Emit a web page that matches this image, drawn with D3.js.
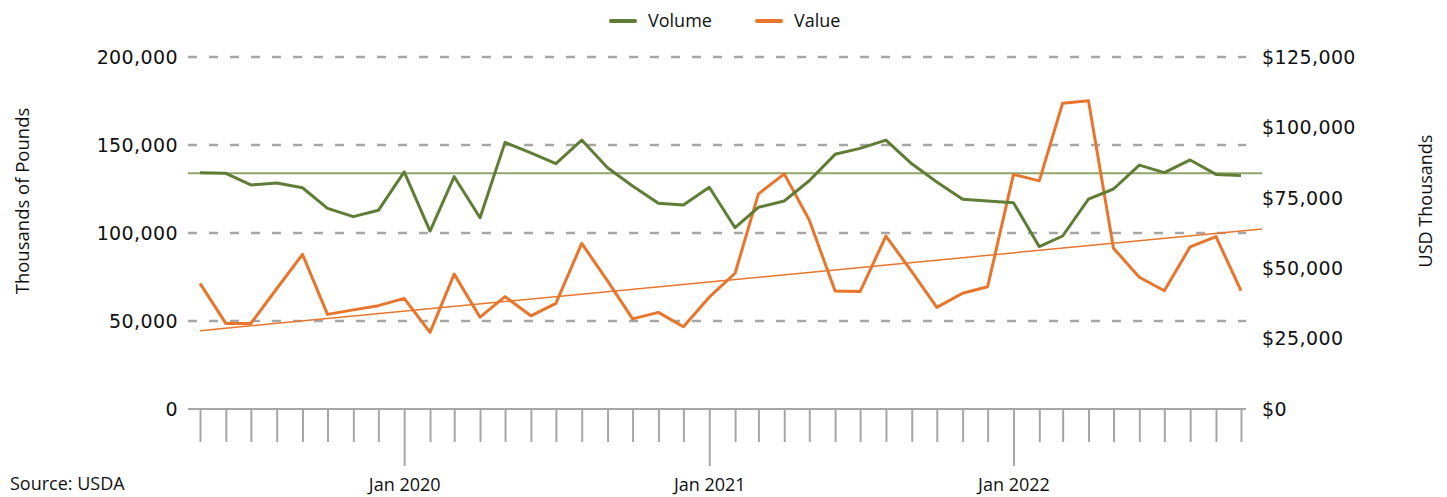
<!DOCTYPE html>
<html lang="en">
<head>
  <meta charset="utf-8" />
  <title>Volume and Value</title>
  <script src="https://cdn.jsdelivr.net/npm/d3@7"></script>
  <style>
    body {
      margin: 0;
      background: #fff;
      font-family: "Open Sans", sans-serif;
    }
    .num {
      font-family: "DejaVu Sans", sans-serif;
      font-size: 19px;
      fill: #111;
    }
  </style>
</head>
<body>
  <div id="chart"></div>

  <script type="text/javascript">

    // months May 2019 .. Oct 2022
    const months = d3.timeMonth.range(new Date(2019, 4, 1), new Date(2022, 10, 1));

    // thousands of pounds
    const volume = [
      134300, 133900, 127300, 128400, 125700, 114000, 109300, 112900, 134700, 101100,
      132000, 108700, 151500, 145500, 139400, 152800, 137100, 126700, 116900, 115900,
      126000, 103000, 114600, 118200, 129700, 144700, 148100, 152800, 139300, 129000,
      119200, 118200, 117200, 92200, 98300, 119200, 125000, 138600, 134300, 141500,
      133300, 132600
    ];

    // USD thousands
    const value = [
      44600, 30400, 30400, 42700, 54900, 33600, 35200, 36700, 39300, 27200,
      47900, 32600, 39900, 33100, 37500, 58800, 45500, 32000, 34300, 29200,
      39700, 48200, 76400, 83500, 67100, 41900, 41700, 61400, 48800, 36100,
      41100, 43400, 83300, 81000, 108600, 109500, 57100, 46800, 42000, 57600,
      61200, 42000
    ];

    const volumeAverage = 134000;
    const valueTrend = [27800, 63900];   // start, end of linear trend

    const leftTicks = [0, 50000, 100000, 150000, 200000];
    const rightTicks = [0, 25000, 50000, 75000, 100000, 125000];

    const legendItems = [
      { name: "Volume", color: "#5f7d34" },
      { name: "Value", color: "#e8752b" }
    ];

    const w = 1447;
    const h = 497;
    const green = "#5f7d34";
    const greenLight = "#8fa668";
    const orange = "#e8752b";
    const grey = "#a6a6a6";

    const svg = d3.select("#chart")
                  .append("svg")
                  .attr("width", w)
                  .attr("height", h);

    const x = d3.scaleTime()
                .domain([months[0], months[months.length - 1]])
                .range([200, 1241]);

    const yL = d3.scaleLinear().domain([0, 200000]).range([409, 57]);
    const yR = d3.scaleLinear().domain([0, 125000]).range([409, 57]);

    const plotLeft = x.range()[0] - 12;
    const plotRight = x.range()[1] + 5;
    const refRight = x.range()[1] + 21;

    // dashed gridlines
    svg.append("g")
       .selectAll("line")
       .data(leftTicks.filter(d => d > 0))
       .enter()
       .append("line")
       .attr("x1", plotLeft)
       .attr("x2", plotRight)
       .attr("y1", d => yL(d))
       .attr("y2", d => yL(d))
       .attr("stroke", grey)
       .attr("stroke-width", 2.5)
       .attr("stroke-dasharray", "9,12");

    // x axis
    const xAxis = d3.axisBottom(x)
                    .ticks(d3.timeMonth.every(1))
                    .tickSize(33)
                    .tickFormat(d => d.getMonth() === 0 ? "Jan " + d.getFullYear() : "");

    const gx = svg.append("g")
                  .attr("transform", "translate(0," + yL(0) + ")")
                  .call(xAxis);

    gx.select(".domain").remove();
    gx.selectAll(".tick line")
      .attr("stroke", grey)
      .attr("stroke-width", 2)
      .attr("y2", d => d.getMonth() === 0 ? 57 : 33);
    gx.selectAll(".tick text")
      .attr("y", 82)
      .attr("dy", 0)
      .attr("fill", "#111")
      .style("font-family", "'Open Sans', sans-serif")
      .style("font-size", "18px");

    svg.append("line")
       .attr("x1", plotLeft)
       .attr("x2", plotRight)
       .attr("y1", yL(0))
       .attr("y2", yL(0))
       .attr("stroke", grey)
       .attr("stroke-width", 2);

    // left axis labels
    svg.append("g")
       .selectAll("text")
       .data(leftTicks)
       .enter()
       .append("text")
       .attr("class", "num")
       .attr("x", 178)
       .attr("y", d => yL(d))
       .attr("dy", "0.36em")
       .attr("text-anchor", "end")
       .style("letter-spacing", "0.4px")
       .text(d => d3.format(",")(d));

    // right axis labels
    svg.append("g")
       .selectAll("text")
       .data(rightTicks)
       .enter()
       .append("text")
       .attr("class", "num")
       .attr("x", 1262)
       .attr("y", d => yR(d))
       .attr("dy", "0.36em")
       .style("letter-spacing", "0.4px")
       .text(d => "$" + d3.format(",")(d));

    // axis titles
    svg.append("text")
       .attr("transform", "translate(29,201) rotate(-90)")
       .attr("text-anchor", "middle")
       .attr("fill", "#111")
       .style("font-size", "18.5px")
       .text("Thousands of Pounds");

    svg.append("text")
       .attr("transform", "translate(1432,201) rotate(-90)")
       .attr("text-anchor", "middle")
       .attr("fill", "#111")
       .style("font-size", "18px")
       .text("USD Thousands");

    // average volume line
    svg.append("line")
       .attr("x1", plotLeft)
       .attr("x2", refRight)
       .attr("y1", yL(volumeAverage))
       .attr("y2", yL(volumeAverage))
       .attr("stroke", greenLight)
       .attr("stroke-width", 2);

    // value trend line
    svg.append("line")
       .attr("x1", x(months[0]))
       .attr("x2", refRight)
       .attr("y1", yR(valueTrend[0]))
       .attr("y2", yR(valueTrend[1]))
       .attr("stroke", orange)
       .attr("stroke-width", 1.5);

    const lineL = d3.line().x((d, i) => x(months[i])).y(d => yL(d));
    const lineR = d3.line().x((d, i) => x(months[i])).y(d => yR(d));

    svg.append("path")
       .datum(value)
       .attr("d", lineR)
       .attr("fill", "none")
       .attr("stroke", orange)
       .attr("stroke-width", 3)
       .attr("stroke-linejoin", "round");

    svg.append("path")
       .datum(volume)
       .attr("d", lineL)
       .attr("fill", "none")
       .attr("stroke", green)
       .attr("stroke-width", 3)
       .attr("stroke-linejoin", "round");

    // legend
    const legendX = [611, 757];
    const legend = svg.append("g").attr("class", "legend");

    legend.selectAll("line")
          .data(legendItems)
          .enter()
          .append("line")
          .attr("x1", (d, i) => legendX[i])
          .attr("x2", (d, i) => legendX[i] + 24)
          .attr("y1", 21)
          .attr("y2", 21)
          .attr("stroke", d => d.color)
          .attr("stroke-width", 4)
          .attr("stroke-linecap", "round");

    legend.selectAll("text")
          .data(legendItems)
          .enter()
          .append("text")
          .attr("x", (d, i) => legendX[i] + 37)
          .attr("y", 21)
          .attr("dy", "0.35em")
          .attr("fill", "#111")
          .style("font-size", "18px")
          .text(d => d.name);

    // source
    svg.append("text")
       .attr("x", 10)
       .attr("y", 490)
       .attr("fill", "#111")
       .style("font-size", "18px")
       .text("Source: USDA");

  </script>
</body>
</html>
